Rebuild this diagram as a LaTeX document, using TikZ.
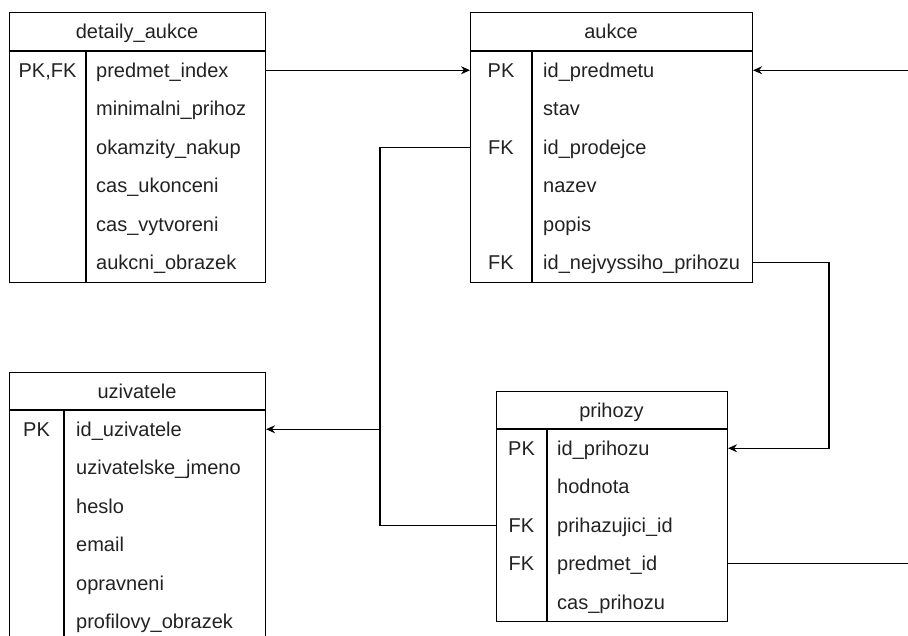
\documentclass[tikz,border=0pt]{standalone}
\usepackage{fontspec}
\setmainfont{Liberation Sans}
\usetikzlibrary{arrows.meta}
\definecolor{txt}{HTML}{222222}
\begin{document}
\begin{tikzpicture}[x=1pt,y=-1pt,
  font=\fontsize{20}{24}\selectfont,
  tablebox/.style={draw=black,line width=1.1pt,inner sep=0pt,anchor=north west},
  sep/.style={draw=black,line width=1.1pt},
  fld/.style={anchor=west,inner sep=0pt,text height=14.4pt,text depth=0pt,text=txt},
  keyt/.style={anchor=center,inner sep=0pt,text height=14.4pt,text depth=0pt,text=txt},
  hdr/.style={anchor=center,inner sep=0pt,text height=14.4pt,text depth=0pt,text=txt},
  conn/.style={draw=black,line width=1.1pt},
  arr/.style={conn,-{Stealth[length=9pt,width=8pt,inset=3pt]}}
]
\useasboundingbox (0,0) rectangle (908,635);
\clip (0,0) rectangle (908,635);

% ---------- detaily_aukce ----------
\node[tablebox,minimum width=256pt,minimum height=270pt] (det) at (9,12) {};
\draw[sep] ([yshift=-39pt]det.north west) -- ([yshift=-39pt]det.north east);
\draw[sep] ([xshift=77pt,yshift=-39pt]det.north west) -- ([xshift=77pt]det.south west);
\node[hdr] (deth) at (137,31.5) {detaily\_aukce};
\node[keyt] (detk1) at (47.5,70.25) {PK,FK};
\node[fld] (det1) at (96,70.25) {predmet\_index};
\node[fld] (det2) at (96,108.75) {minimalni\_prihoz};
\node[fld] (det3) at (96,147.25) {okamzity\_nakup};
\node[fld] (det4) at (96,185.75) {cas\_ukonceni};
\node[fld] (det5) at (96,224.25) {cas\_vytvoreni};
\node[fld] (det6) at (96,262.75) {aukcni\_obrazek};

% ---------- aukce ----------
\node[tablebox,minimum width=282pt,minimum height=270pt] (auk) at (470,12) {};
\draw[sep] ([yshift=-39pt]auk.north west) -- ([yshift=-39pt]auk.north east);
\draw[sep] ([xshift=62pt,yshift=-39pt]auk.north west) -- ([xshift=62pt]auk.south west);
\node[hdr] (aukh) at (611,31.5) {aukce};
\node[keyt] (aukk1) at (501,70.25) {PK};
\node[keyt] (aukk3) at (501,147.25) {FK};
\node[keyt] (aukk6) at (501,262.75) {FK};
\node[fld] (auk1) at (543,70.25) {id\_predmetu};
\node[fld] (auk2) at (543,108.75) {stav};
\node[fld] (auk3) at (543,147.25) {id\_prodejce};
\node[fld] (auk4) at (543,185.75) {nazev};
\node[fld] (auk5) at (543,224.25) {popis};
\node[fld] (auk6) at (543,262.75) {id\_nejvyssiho\_prihozu};

% ---------- uzivatele ----------
\node[tablebox,minimum width=256pt,minimum height=270pt] (uzi) at (9,372) {};
\draw[sep] ([yshift=-38pt]uzi.north west) -- ([yshift=-38pt]uzi.north east);
\draw[sep] ([xshift=55pt,yshift=-38pt]uzi.north west) -- ([xshift=55pt]uzi.south west);
\node[hdr] (uzih) at (137,391) {uzivatele};
\node[keyt] (uzik1) at (36.5,429.25) {PK};
\node[fld] (uzi1) at (76,429.25) {id\_uzivatele};
\node[fld] (uzi2) at (76,467.75) {uzivatelske\_jmeno};
\node[fld] (uzi3) at (76,506.25) {heslo};
\node[fld] (uzi4) at (76,544.75) {email};
\node[fld] (uzi5) at (76,583.25) {opravneni};
\node[fld] (uzi6) at (76,621.75) {profilovy\_obrazek};

% ---------- prihozy ----------
\node[tablebox,minimum width=231pt,minimum height=230pt] (pri) at (496,391) {};
\draw[sep] ([yshift=-38pt]pri.north west) -- ([yshift=-38pt]pri.north east);
\draw[sep] ([xshift=51pt,yshift=-38pt]pri.north west) -- ([xshift=51pt]pri.south west);
\node[hdr] (prih) at (611.5,410) {prihozy};
\node[keyt] (prik1) at (521.5,448.25) {PK};
\node[keyt] (prik3) at (521.5,525.25) {FK};
\node[keyt] (prik4) at (521.5,563.75) {FK};
\node[fld] (pri1) at (557,448.25) {id\_prihozu};
\node[fld] (pri2) at (557,486.75) {hodnota};
\node[fld] (pri3) at (557,525.25) {prihazujici\_id};
\node[fld] (pri4) at (557,563.75) {predmet\_id};
\node[fld] (pri5) at (557,602.25) {cas\_prihozu};

% ---------- connectors ----------
\coordinate (offR) at (925,70.25);
\coordinate (bendA) at (829,262.75);
\coordinate (bendB) at (380,525.25);
\coordinate (junc) at (380,429.25);

\draw[arr] (det.east |- det1) -- (auk.west |- auk1);
\draw[arr] (pri.east |- pri4) -| (offR) -- (auk.east |- auk1);
\draw[arr] (auk.east |- auk6) -- (bendA) |- (pri.east |- pri1);
\draw[conn] (auk.west |- auk3) -| (bendB) -- (pri.west |- pri3);
\draw[arr] (junc) -- (uzi.east |- uzi1);
\end{tikzpicture}
\end{document}
